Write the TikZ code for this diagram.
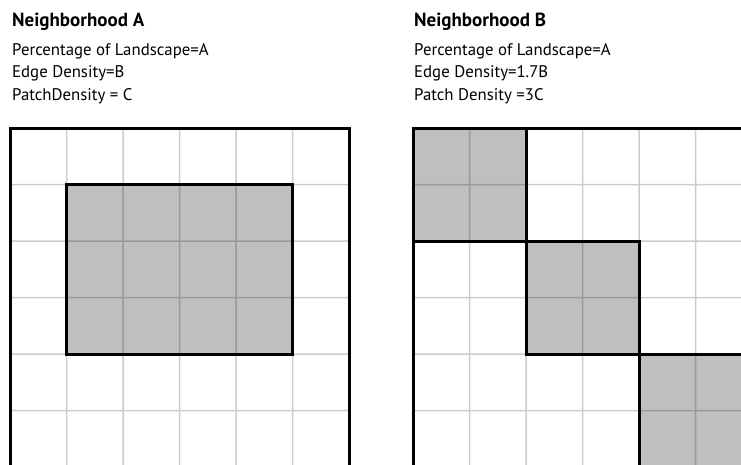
\documentclass[tikz,border=0pt]{standalone}
\usepackage{fontspec}
\setmainfont{PT Sans}

\begin{document}
\begin{tikzpicture}[
    x=1pt, y=-1pt,
    cellline/.style={black,line width=1.5pt},
    border/.style={black,line width=3pt},
    patch/.style={fill=black!25},
    head/.style={anchor=base west,inner sep=0pt,font=\fontsize{19}{22}\selectfont\bfseries},
    info/.style={anchor=base west,inner sep=0pt,font=\fontsize{16.8}{22}\selectfont}
  ]
  \def\cs{56.5}
  \useasboundingbox (0,0) rectangle (741,464);
  \clip (0,0) rectangle (741,464);

  % labels, neighbourhood A
  \node[head] (headA) at (12,26.7) {Neighborhood A};
  \node[info] (pctA) at (12,55) {Percentage of Landscape=A};
  \node[info] (edgeA) at (12,77.5) {Edge Density=B};
  \node[info] (patchA) at (12,100) {PatchDensity = C};

  % labels, neighbourhood B
  \node[head] (headB) at (414,26.7) {Neighborhood B};
  \node[info] (pctB) at (414,55) {Percentage of Landscape=A};
  \node[info] (edgeB) at (414,77.5) {Edge Density=1.7B};
  \node[info] (patchB) at (414,100) {Patch Density =3C};

  % patches
  \fill[patch] ({10+\cs},{128+\cs}) rectangle ({10+5*\cs},{128+4*\cs});
  \foreach \k in {0,1,2}
    \fill[patch] ({413+2*\k*\cs},{128+2*\k*\cs}) rectangle ++({2*\cs},{2*\cs});

  % cell lines
  \begin{scope}[transparency group,opacity=0.2]
    \foreach \i in {1,...,5} {
      \draw[cellline] ({10+\i*\cs},128) -- ({10+\i*\cs},470);
      \draw[cellline] (10,{128+\i*\cs}) -- ({10+6*\cs},{128+\i*\cs});
    }
    \foreach \i in {1,...,6} {
      \draw[cellline] ({413+\i*\cs},128) -- ({413+\i*\cs},470);
      \draw[cellline] (413,{128+\i*\cs}) -- (760,{128+\i*\cs});
    }
  \end{scope}

  % borders
  \draw[border] (10,128) rectangle ({10+6*\cs},{128+6*\cs});
  \draw[border] ({10+\cs},{128+\cs}) rectangle ({10+5*\cs},{128+4*\cs});
  \draw[border] (413,470) -- (413,128) -- (760,128);
  \foreach \k in {0,1,2}
    \draw[border] ({413+2*\k*\cs},{128+2*\k*\cs}) rectangle ++({2*\cs},{2*\cs});
\end{tikzpicture}
\end{document}
